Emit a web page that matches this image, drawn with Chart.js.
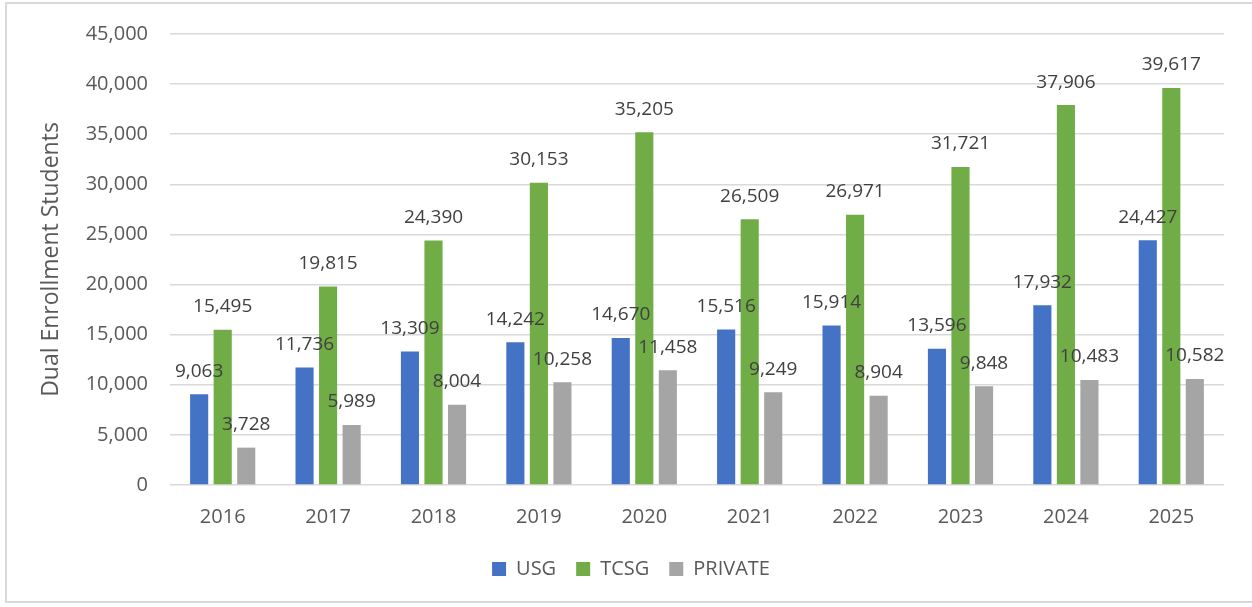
<!DOCTYPE html>
<html>
<head>
<meta charset="utf-8">
<script src="https://cdn.jsdelivr.net/npm/chart.js@4/dist/chart.umd.min.js"></script>
<style>
  html, body { margin: 0; padding: 0; background: #fff; overflow: hidden; }
  #wrap { position: relative; width: 1252px; height: 607px; }
  #frame {
    position: absolute; left: 5px; top: 2px; width: 1270px; height: 601px;
    border: 2px solid #d9d9d9; box-sizing: border-box;
  }
  canvas { position: absolute; left: 0; top: 0; }
</style>
</head>
<body>
<div id="wrap">
  <div id="frame"></div>
  <canvas id="chart" width="1252" height="607"></canvas>
</div>
<script>
// Данные графика
const years = ['2016', '2017', '2018', '2019', '2020', '2021', '2022', '2023', '2024', '2025'];
const usg = [9063, 11736, 13309, 14242, 14670, 15516, 15914, 13596, 17932, 24427];
const tcsg = [15495, 19815, 24390, 30153, 35205, 26509, 26971, 31721, 37906, 39617];
const privateSchools = [3728, 5989, 8004, 10258, 11458, 9249, 8904, 9848, 10483, 10582];
const seriesNames = ['USG', 'TCSG', 'PRIVATE'];
const colors = ['#4472C4', '#70AD47', '#A5A5A5'];

const FONT = "'Open Sans', 'DejaVu Sans', sans-serif";
const fmt = (v) => v.toLocaleString('en-US');

// Подписи значений над столбцами
const valueLabels = {
  id: 'valueLabels',
  afterDatasetsDraw(chart) {
    const ctx = chart.ctx;
    ctx.save();
    ctx.font = '19px ' + FONT;
    ctx.fillStyle = '#404040';
    ctx.textAlign = 'center';
    ctx.textBaseline = 'middle';
    chart.data.datasets.forEach((ds, i) => {
      chart.getDatasetMeta(i).data.forEach((bar, j) => {
        ctx.fillText(fmt(ds.data[j]), bar.x, bar.y - 23);
      });
    });
    ctx.restore();
  },
};

const ctx = document.getElementById('chart').getContext('2d');
new Chart(ctx, {
  type: 'bar',
  data: {
    labels: years,
    datasets: [usg, tcsg, privateSchools].map((d, i) => ({
      label: seriesNames[i],
      data: d,
      backgroundColor: colors[i],
      categoryPercentage: 0.67,
      barPercentage: 0.77,
    })),
  },
  options: {
    responsive: false,
    animation: false,
    layout: { padding: { left: 38, right: 28, top: 15, bottom: 18 } },
    plugins: {
      legend: {
        position: 'bottom',
        labels: {
          font: { family: FONT, size: 20 },
          color: '#595959',
          boxWidth: 14,
          boxHeight: 14,
          padding: 20,
        },
      },
      tooltip: { enabled: false },
    },
    scales: {
      x: {
        afterFit: (s) => { s.height = s.height - 2; },
        grid: { display: false },
        border: { display: false },
        ticks: { font: { family: FONT, size: 20 }, color: '#595959', padding: 12 },
      },
      y: {
        min: 0,
        max: 45000,
        afterFit: (s) => { s.width = 132; },
        grid: { color: '#d9d9d9', lineWidth: 1.5, drawTicks: false },
        border: { display: false },
        ticks: {
          stepSize: 5000,
          padding: 22,
          font: { family: FONT, size: 20 },
          color: '#595959',
          callback: (v) => fmt(v),
        },
        title: {
          display: true,
          text: 'Dual Enrollment Students',
          font: { family: FONT, size: 23 },
          color: '#595959',
          padding: 0,
        },
      },
    },
  },
  plugins: [valueLabels],
});
</script>
</body>
</html>
